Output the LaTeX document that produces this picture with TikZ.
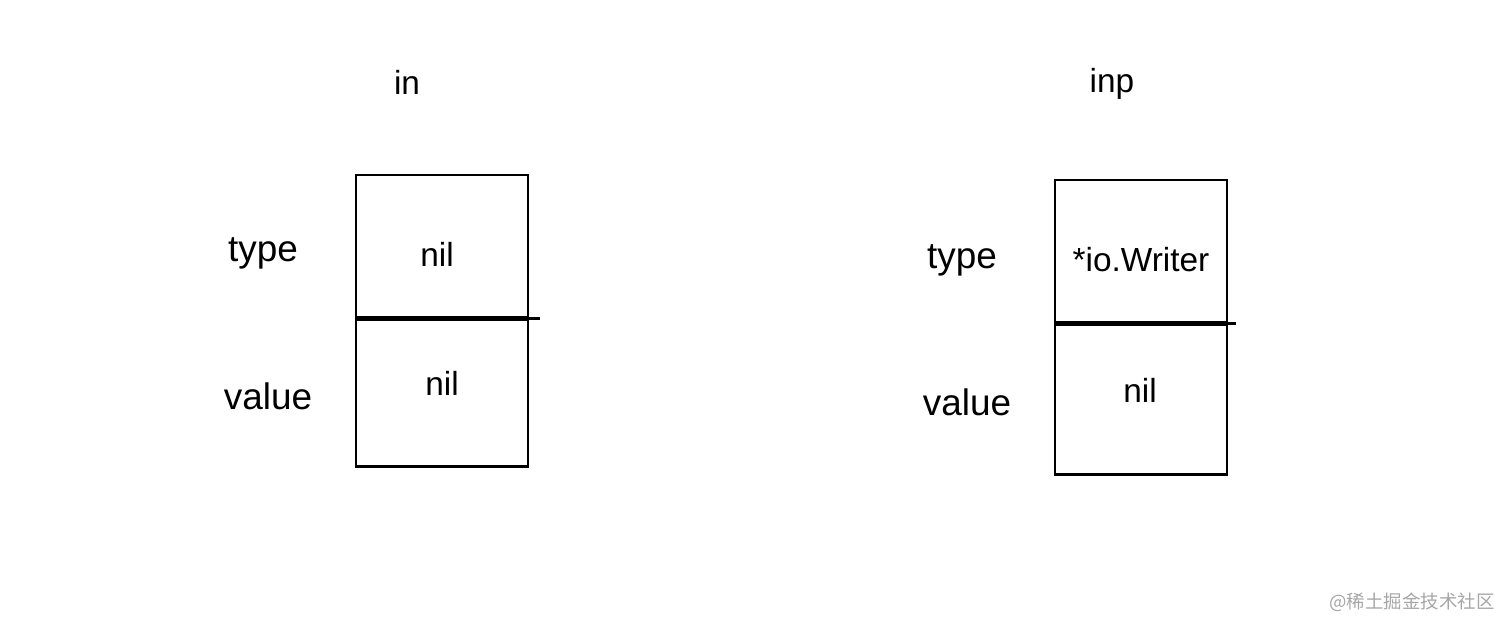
\documentclass[tikz,border=0pt]{standalone}
\usepackage{fontspec}
\setmainfont{Liberation Sans}
\newfontfamily\cjkfont{Noto Sans CJK SC}
\usetikzlibrary{positioning}

\begin{document}
\begin{tikzpicture}[x=0.02cm, y=-0.02cm]
    % Define styles
    \tikzstyle{cell} = [rectangle, minimum width=3.44cm, minimum height=2.84cm, draw=black, line width=1.5pt, inner sep=0pt, align=center, font=\fontsize{19}{22}\selectfont]
    \tikzstyle{label} = [font=\fontsize{21}{24}\selectfont]
    \tikzstyle{title} = [font=\fontsize{19}{22}\selectfont]
    \tikzstyle{watermark} = [font=\cjkfont\fontsize{10.5}{12}\selectfont, text=black!35]

    \useasboundingbox (0,0) rectangle (1512,631);

    % Left box: in
    \node[title] (inname) at (407, 82) {in};
    \node[cell] (intype) at (442, 246) {};
    \node[cell, below=0pt of intype, minimum height=2.94cm] (invalue) {};
    \node (intypetext) at (437, 254) {\fontsize{19}{22}\selectfont nil};
    \node (invaluetext) at (442, 383) {\fontsize{19}{22}\selectfont nil};
    \draw[line width=1.5pt] (intype.south east) -- ++(11, 0) coordinate (intail);
    \node[label] (intypelabel) at (263, 253) {type};
    \node[label] (invaluelabel) at (268, 396) {value};

    % Right box: inp
    \node[title] (inpname) at (1112, 84) {inp};
    \node[cell] (inptype) at (1141, 251) {};
    \node[cell, below=0pt of inptype, minimum height=3.0cm] (inpvalue) {};
    \node (inptypetext) at (1141, 260) {\fontsize{19}{22}\selectfont *io.Writer};
    \node (inpvaluetext) at (1140, 390) {\fontsize{19}{22}\selectfont nil};
    \draw[line width=1.5pt] (inptype.south east) -- ++(8, 0) coordinate (inptail);
    \node[label] (inptypelabel) at (962, 260) {type};
    \node[label] (inpvaluelabel) at (967, 402) {value};

    % Watermark
    \node[watermark] (wm) at (1412, 602) {@稀土掘金技术社区};

\end{tikzpicture}
\end{document}
